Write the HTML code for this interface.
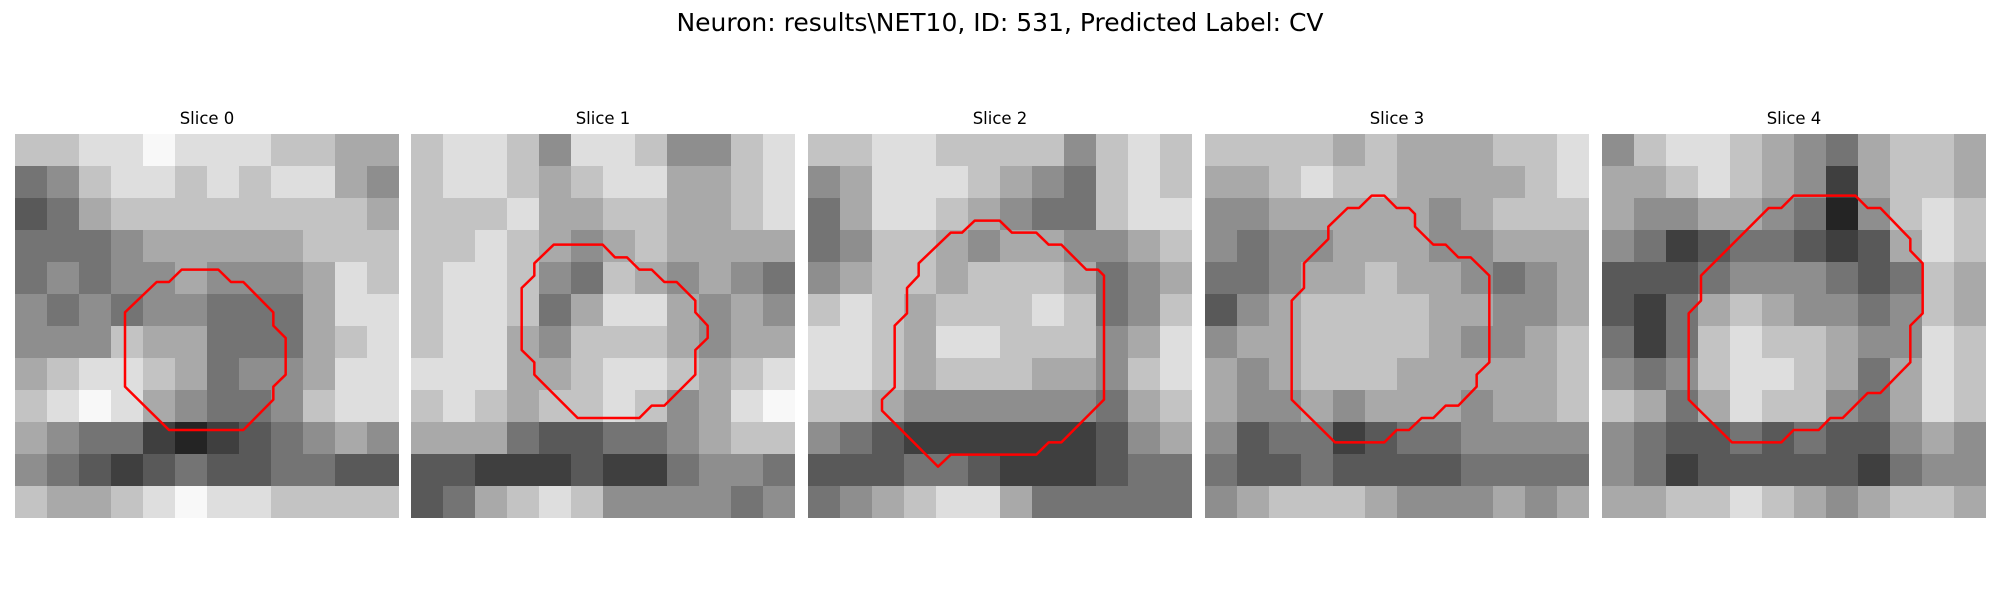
<!DOCTYPE html>
<html><head><meta charset="utf-8"><style>
body{margin:0;background:#fff;width:2000px;height:600px;overflow:hidden;position:relative;font-family:"DejaVu Sans","Liberation Sans",sans-serif;}
#title{position:absolute;left:0;width:2000px;top:8px;text-align:center;font-size:25px;color:#000;}
.st{position:absolute;top:109px;width:384px;text-align:center;font-size:16.5px;color:#000;}
svg.p{position:absolute;top:134px;width:384px;height:384px;}
</style></head><body>
<div id="title">Neuron: results\NET10, ID: 531, Predicted Label: CV</div>
<div id="root"></div>
<script>
const panelLefts=[15,411,808,1205,1602];
const sliceTitles=["Slice 0","Slice 1","Slice 2","Slice 3","Slice 4"];
const grid0=["778898887766","457887878865","346777777776","444566666777","454556555687","545455444688","555766444678","678876455688","789865445788","654421234565","543234334433","766789887777"];
const grid1=["788758875578","788767886678","777866776678","778765676666","788754765654","788746886565","788657776566","888667887678","787677875689","666433445677","332223224554","346787555545"];
const grid2=["778877775787","568887654787","468876544788","457765665567","567767776456","787677787457","887688777568","887677766578","776555555467","543222222356","333443222344","456788644444"];
const grid3=["777767666778","667877666678","556666656777","545566655666","445667665456","356777766556","566777765567","656777666667","655656665667","534423445555","433433334444","567776555656"];
const grid4=["578876546776","667876526776","655665415787","542344323687","333455543476","324676554576","424787765587","545788764687","764687754687","543343433565","542333332455","667787656776"];
const grids=[grid0,grid1,grid2,grid3,grid4];
const contour0=[[500,407],[610,407],[648,444],[685,444],[775,535],[775,575],[812,612],[812,722],[775,758],[775,797],[685,888],[462,888],[330,758],[330,535],[425,444],[462,444]];
const contour1=[[428,332],[575,332],[612,370],[648,370],[685,407],[722,407],[760,444],[797,444],[853,500],[853,535],[890,575],[890,612],[853,648],[853,722],[760,815],[722,815],[685,852],[500,852],[370,722],[370,685],[332,648],[332,462],[370,425],[370,388]];
const contour2=[[500,260],[575,260],[612,296],[685,296],[722,332],[760,332],[835,407],[870,407],[888,425],[888,797],[760,925],[722,925],[685,962],[428,962],[390,998],[222,830],[222,797],[260,760],[260,575],[297,538],[297,462],[332,425],[332,388],[428,296],[462,296]];
const contour3=[[500,185],[538,185],[575,222],[612,222],[630,240],[630,278],[685,332],[722,332],[760,370],[797,370],[853,425],[853,685],[815,722],[815,758],[760,815],[722,815],[685,852],[650,852],[612,888],[575,888],[538,925],[390,925],[260,797],[260,500],[297,462],[297,388],[370,315],[370,278],[428,222],[462,222]];
const contour4=[[575,185],[760,185],[797,222],[835,222],[925,315],[925,350],[962,388],[962,538],[925,575],[925,685],[835,777],[797,777],[722,852],[685,852],[650,888],[575,888],[538,925],[390,925],[260,797],[260,538],[297,500],[297,425],[500,222],[538,222]];
const contours=[contour0,contour1,contour2,contour3,contour4];
const NS="http://www.w3.org/2000/svg";
const root=document.getElementById('root');
function gray(v){const g=Math.round(10+v/9*238);return `rgb(${g},${g},${g})`;}
for(let p=0;p<5;p++){
  const t=document.createElement('div');
  t.className='st';t.style.left=panelLefts[p]+'px';t.textContent=sliceTitles[p];
  
  
  root.appendChild(t);
  const svg=document.createElementNS(NS,'svg');
  svg.setAttribute('class','p');svg.setAttribute('viewBox','0 0 1152 1152');
  svg.setAttribute('preserveAspectRatio','none');
  svg.style.left=panelLefts[p]+'px';
  
  
  const g=grids[p];const n=g.length;const cs=1152/n;
  for(let r=0;r<n;r++)for(let c=0;c<g[r].length;c++){
    const re=document.createElementNS(NS,'rect');
    re.setAttribute('x',c*cs);re.setAttribute('y',r*cs);
    re.setAttribute('width',cs+0.5);re.setAttribute('height',cs+0.5);
    re.setAttribute('fill',gray(+g[r][c]));
    
    
    svg.appendChild(re);
  }
  const pg=document.createElementNS(NS,'polygon');
  pg.setAttribute('points',contours[p].map(q=>q.join(',')).join(' '));
  pg.setAttribute('fill','none');pg.setAttribute('stroke','#ff0000');
  pg.setAttribute('stroke-width','7.5');pg.setAttribute('stroke-linejoin','round');
  
  
  svg.appendChild(pg);
  root.appendChild(svg);
}
</script>
</body></html>
